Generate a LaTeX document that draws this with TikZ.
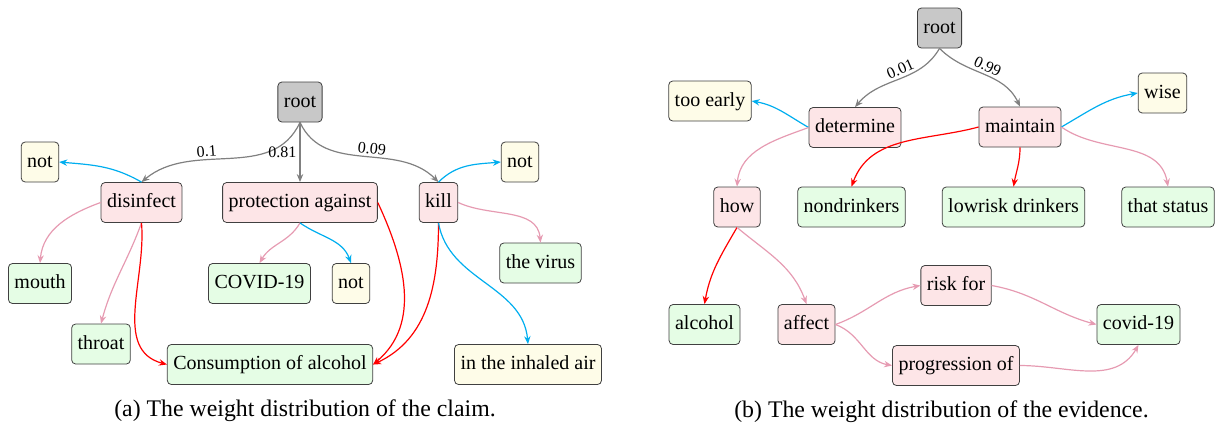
\documentclass[tikz,border=0pt]{standalone}
\usepackage{fontspec}
\setmainfont{Liberation Serif}
\usetikzlibrary{arrows.meta, positioning}
\definecolor{gris}{RGB}{200,200,200}
\definecolor{rosaclaro}{RGB}{253,229,231}
\definecolor{verdeclaro}{RGB}{229,253,229}
\definecolor{amarilloclaro}{RGB}{254,252,232}
\definecolor{azul}{RGB}{0,174,239}
\definecolor{rosa}{RGB}{230,155,178}
\tikzstyle{caja} = [draw=black!75, rounded corners=2pt, inner xsep=3pt, inner ysep=5.5pt, text height=7pt, text depth=2pt, font=\fontsize{10}{12}\selectfont]
\tikzstyle{raiz} = [caja, fill=gris]
\tikzstyle{relacion} = [caja, fill=rosaclaro]
\tikzstyle{argumento} = [caja, fill=verdeclaro]
\tikzstyle{modificador} = [caja, fill=amarilloclaro]
\tikzstyle{flecha} = [-{Stealth[length=4pt,width=3.2pt]}, line width=0.6pt]
\tikzstyle{peso} = [flecha, draw=gray]
\tikzstyle{negacion} = [flecha, draw=azul]
\tikzstyle{enlace} = [flecha, draw=rosa]
\tikzstyle{fuerte} = [flecha, draw=red]
\tikzstyle{valor} = [font=\fontsize{8}{9}\selectfont, inner sep=1.5pt]
\tikzstyle{leyenda} = [font=\fontsize{11.9}{14}\selectfont]

\begin{document}
\begin{tikzpicture}[x=0.5pt, y=-0.5pt]
	\useasboundingbox (0,0) rectangle (1215,430);
	\node [raiz] (rootA) at (300,102) {root};
	\node [modificador] (notA1) at (40,162) {not};
	\node [relacion] (disinfect) at (141.5,202.5) {disinfect};
	\node [relacion] (protection) at (300,202.5) {protection against};
	\node [relacion] (kill) at (438.5,202.5) {kill};
	\node [modificador] (notA3) at (520,162) {not};
	\node [argumento] (virus) at (540.5,263) {the virus};
	\node [argumento] (covidA) at (259.5,283.5) {COVID-19};
	\node [modificador] (notA2) at (351,283.5) {not};
	\node [argumento] (mouth) at (40,283.5) {mouth};
	\node [argumento] (throat) at (101,344) {throat};
	\node [argumento] (consumption) at (270,364.5) {Consumption of alcohol};
	\node [modificador] (inhaled) at (528,364.5) {in the inhaled air};
	\node [leyenda] (capA) at (305,411) {(a) The weight distribution of the claim.};
	
	\draw [peso] (rootA.south) to[out=-115, in=40] node[valor, sloped, above, pos=0.62] {0.1} (disinfect.north);
	\draw [peso] (rootA.south) -- node[valor, left, pos=0.5] {0.81} (protection.north);
	\draw [peso] (rootA.south) to[out=-65, in=135] node[valor, sloped, above, pos=0.55] {0.09} (kill.north);
	\draw [negacion] (disinfect.north) to[out=150, in=-5] (notA1.east);
	\draw [enlace] (disinfect.west) to[out=200, in=85] (mouth.north);
	\draw [enlace] (disinfect.south) to[out=-110, in=75] (throat.north);
	\draw [fuerte] (disinfect.south) to[out=-85, in=165] (consumption.west);
	\draw [enlace] (protection.south) to[out=-120, in=60] (covidA.north);
	\draw [negacion] (protection.south) to[out=-35, in=110] (notA2.north);
	\draw [fuerte] (protection.east) to[out=-65, in=40] (consumption.east);
	\draw [negacion] (kill.north) to[out=45, in=185] (notA3.west);
	\draw [enlace] (kill.east) to[out=-25, in=95] (virus.north);
	\draw [fuerte] (kill.south) to[out=-90, in=25] (consumption.east);
	\draw [negacion] (kill.south) to[out=-80, in=95] (inhaled.north);
	
	\node [raiz] (rootB) at (939.5,28) {root};
	\node [modificador] (tooearly) at (710,101) {too early};
	\node [relacion] (determine) at (855,127.5) {determine};
	\node [relacion] (maintain) at (1020,127) {maintain};
	\node [modificador] (wise) at (1162.5,93) {wise};
	\node [relacion] (how) at (737,207) {how};
	\node [argumento] (nondrinkers) at (851.5,207) {nondrinkers};
	\node [argumento] (lowrisk) at (1013.5,207) {lowrisk drinkers};
	\node [argumento] (status) at (1168,207) {that status};
	\node [argumento] (alcohol) at (704.5,324.5) {alcohol};
	\node [relacion] (affect) at (806.5,324.5) {affect};
	\node [relacion] (riskfor) at (956,285.5) {risk for};
	\node [relacion] (progression) at (956,365.5) {progression of};
	\node [argumento] (covidB) at (1138.5,324.5) {covid-19};
	\node [leyenda] (capB) at (941.5,412) {(b) The weight distribution of the evidence.};
	
	\draw [peso] (rootB.south) to[out=-120, in=50] node[valor, sloped, above, pos=0.45] {0.01} (determine.north);
	\draw [peso] (rootB.south) to[out=-45, in=115] node[valor, sloped, above, pos=0.5] {0.99} (maintain.north);
	\draw [negacion] (determine.west) to[out=150, in=-10] (tooearly.east);
	\draw [enlace] (determine.west) to[out=200, in=85] (how.north);
	\draw [fuerte] (maintain.west) to[out=195, in=70] (nondrinkers.north);
	\draw [fuerte] (maintain.south) to[out=-90, in=80] (lowrisk.north);
	\draw [negacion] (maintain.east) to[out=30, in=190] (wise.west);
	\draw [enlace] (maintain.east) to[out=-35, in=100] (status.north);
	\draw [fuerte] (how.south) to[out=-120, in=80] (alcohol.north);
	\draw [enlace] (how.south) to[out=-40, in=110] (affect.north);
	\draw [enlace] (affect.east) to[out=20, in=190] (riskfor.west);
	\draw [enlace] (affect.east) to[out=-20, in=170] (progression.west);
	\draw [enlace] (riskfor.east) to[out=-10, in=165] (covidB.west);
	\draw [enlace] (progression.east) to[out=0, in=-120] (covidB.south);
\end{tikzpicture}
\end{document}
